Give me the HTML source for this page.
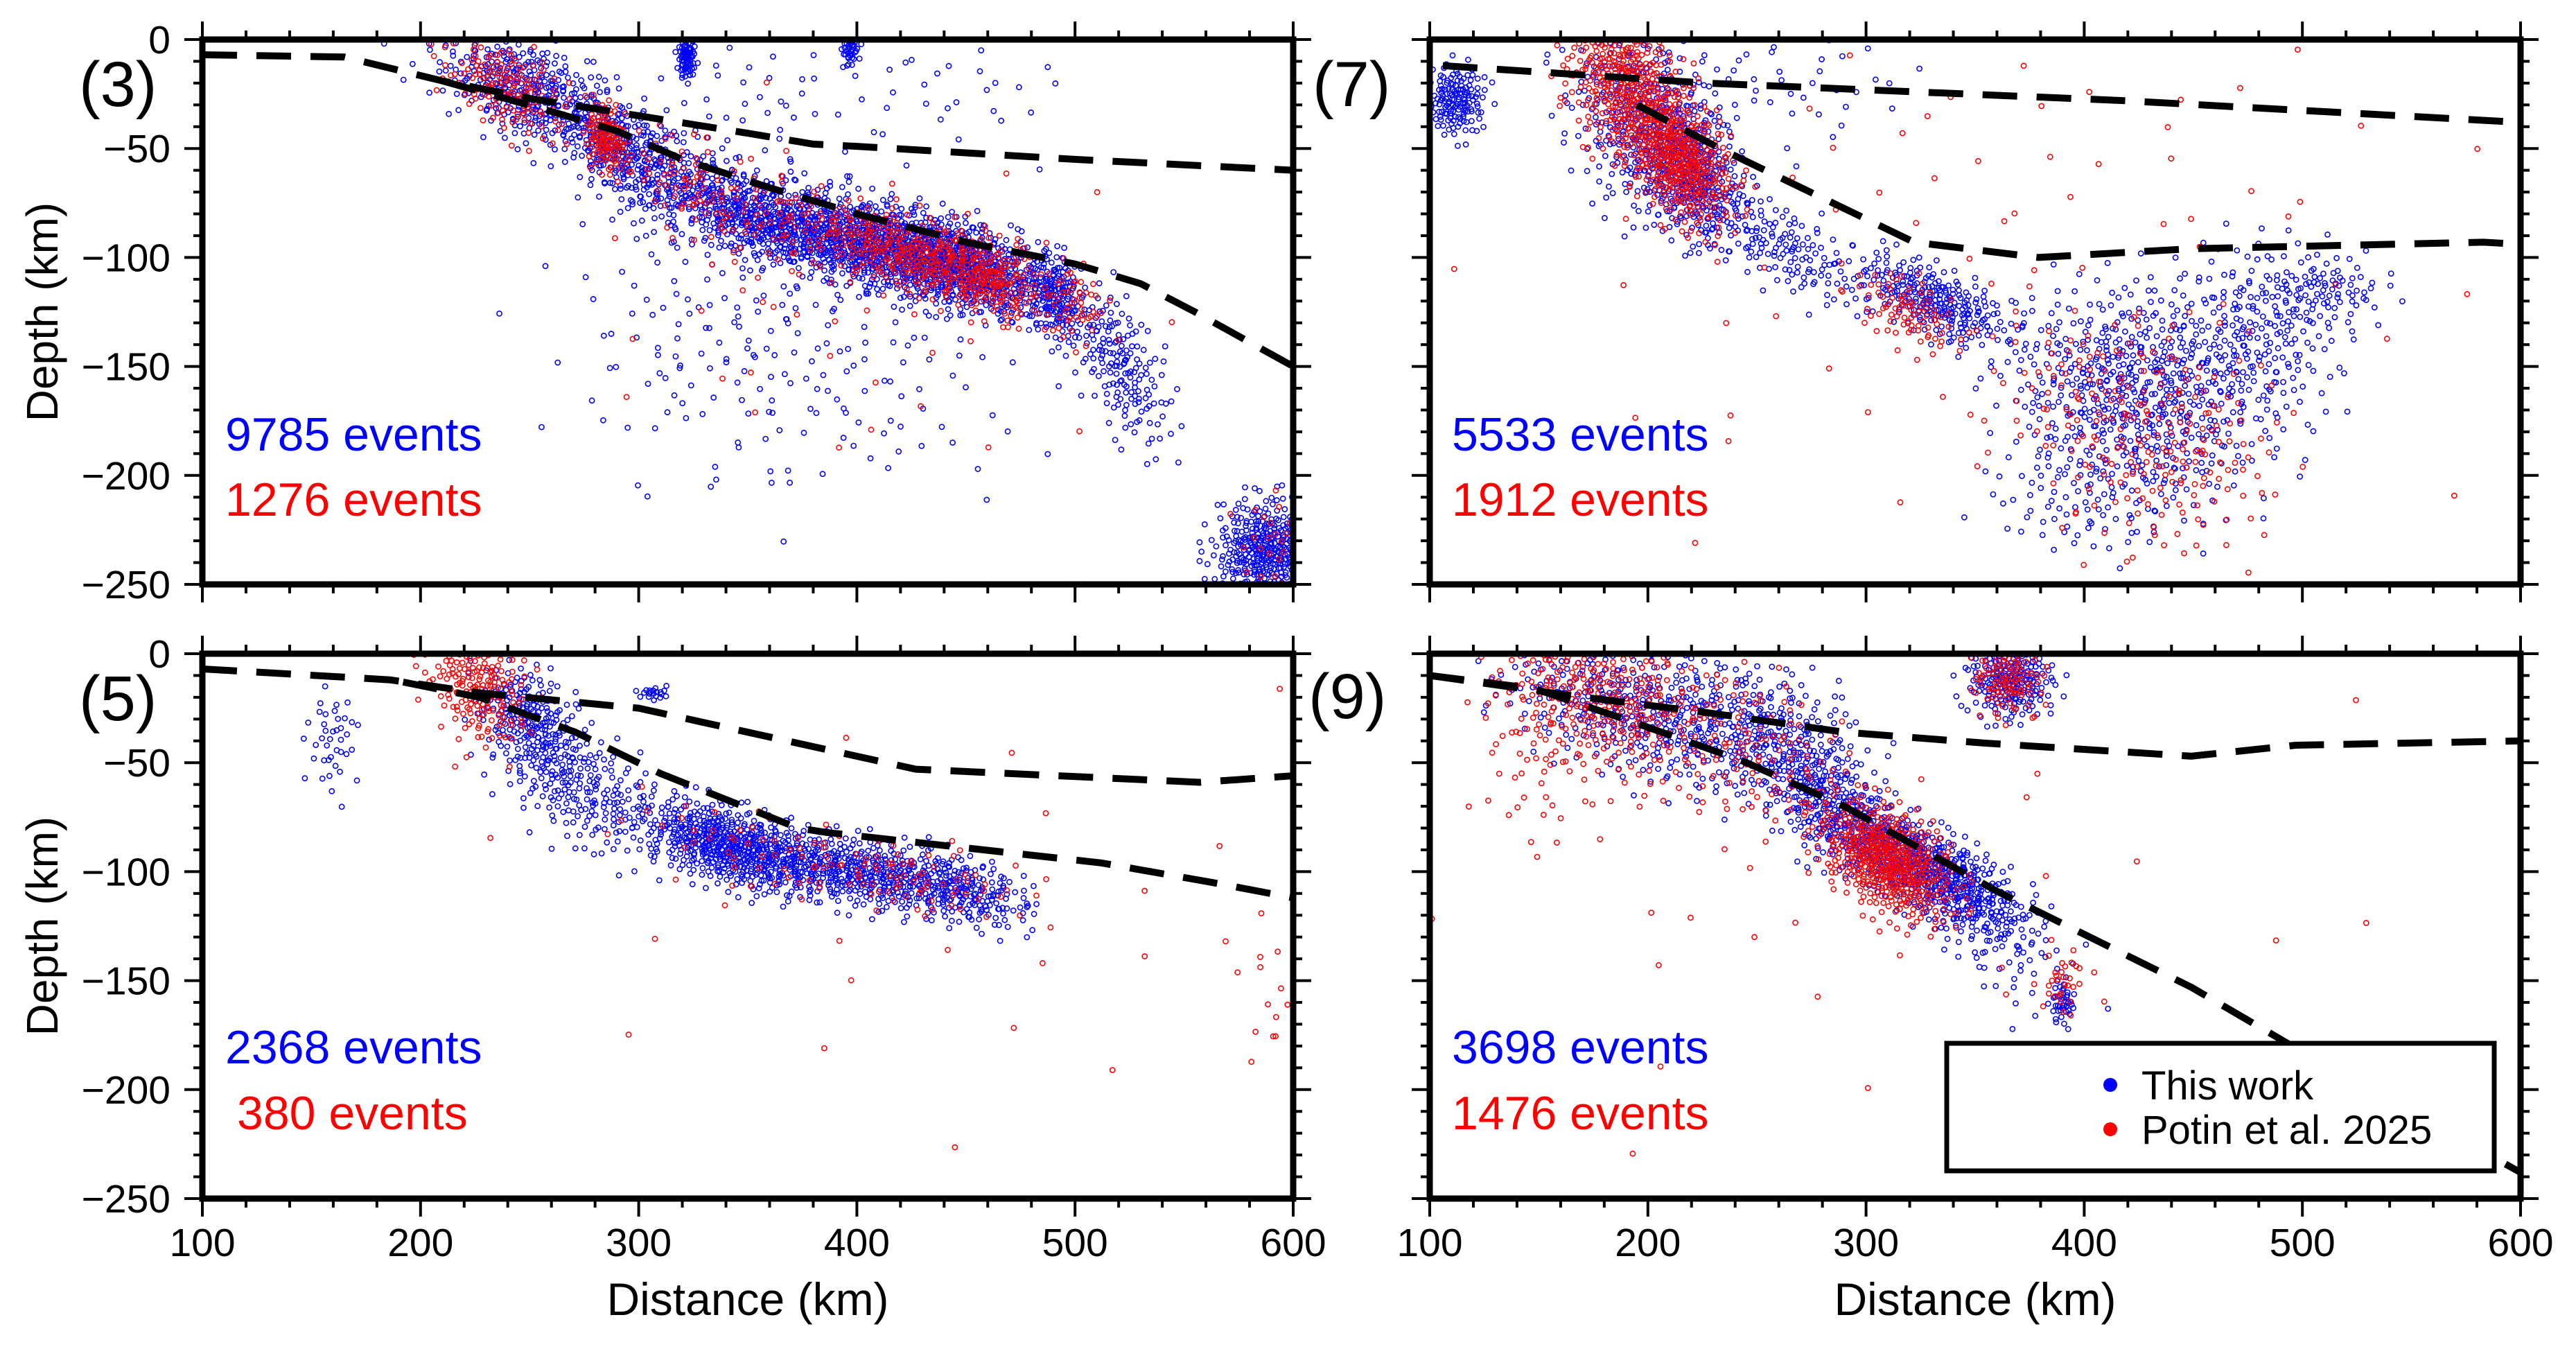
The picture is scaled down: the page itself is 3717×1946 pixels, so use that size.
<!DOCTYPE html>
<html><head><meta charset="utf-8"><style>
html,body{margin:0;padding:0;background:#fff;}
svg{display:block;font-family:"Liberation Sans",Arial,sans-serif;}
</style></head><body>
<svg id="chart" xmlns="http://www.w3.org/2000/svg" width="3717" height="1946" viewBox="0 0 3717 1946">
<rect x="0" y="0" width="3717" height="1946" fill="#fff"/>
</svg>
<script>
// ---- data (km distance, depth km) ----
const xTicks = [100, 200, 300, 400, 500, 600];
const yTicks = [0, -50, -100, -150, -200, -250];
const panelIds = ['3', '7', '5', '9'];
const blueCounts = ['9785 events', '5533 events', '2368 events', '3698 events'];
const redCounts = ['1276 events', '1912 events', '380 events', '1476 events'];

// slab dashed lines per panel: [upper, lower]
const slab3Upper = [[100,-7],[165,-8],[210,-19],[250,-27],[300,-35],[350,-43],[380,-48],[400,-49],[500,-55],[600,-60]];
const slab3Lower = [[210,-19],[260,-33],[290,-42],[320,-55],[360,-68],[400,-80],[450,-93],[500,-103],[530,-112],[555,-125],[600,-150]];
const slab7Upper = [[106,-12],[227,-20],[417,-28],[600,-38]];
const slab7Lower = [[195,-30],[233,-50],[322,-93],[379,-100],[449,-96],[583,-93],[600,-94]];
const slab5Upper = [[100,-7],[186,-12],[227,-18],[300,-25],[427,-53],[557,-59],[600,-56]];
const slab5Lower = [[192,-13],[227,-20],[271,-36],[310,-55],[373,-80],[386,-82],[512,-96],[563,-105],[600,-112]];
const slab9Upper = [[100,-10],[163,-19],[227,-27],[290,-36],[354,-41],[449,-47],[497,-42],[600,-40]];
const slab9Lower = [[100,-10],[148,-16],[195,-32],[243,-49],[290,-70],[360,-109],[449,-153],[497,-181],[600,-238]];

// event clusters: [x, depth, spreadX, spreadDepth, slope, count]
const blue3 = [[250,-25,15,12,0.3,230],[235,-15,20,10,0.2,100],[285,-45,12,10,0.5,150],[322,-8,2,5,0,80],[397,-5,2,4,0,40],
  [330,-70,30,12,0.5,300],[360,-85,25,8,0.3,300],[410,-95,30,10,0.3,800],[450,-103,20,10,0.3,500],[491,-118,6,10,0.5,150],
  [520,-148,12,15,1,180],[340,-130,40,35,0,120],[400,-155,50,30,0,90],[588,-235,12,12,0,400],[300,-60,15,15,0.5,120],
  [350,-30,30,20,0,50],[440,-20,30,20,0,35]];
const red3 = [[240,-22,15,10,0.4,150],[285,-45,5,8,0.5,120],[430,-100,30,9,0.3,400],[460,-108,10,10,0.4,100],[500,-120,8,10,0.5,40],
  [320,-65,15,10,0.5,60],[350,-80,20,15,0.4,60],[400,-120,60,40,0,40],[590,-230,8,15,0,25]];
const blue7 = [[112,-28,7,8,0,150],[200,-40,18,22,0.5,400],[220,-62,12,14,0.5,280],[262,-95,20,10,0.5,150],[332,-120,18,8,0.4,250],
  [420,-150,30,20,0,350],[430,-182,28,22,0,250],[480,-135,20,22,0,200],[510,-115,15,8,0,80],[395,-212,20,15,0,60],[250,-20,40,15,0,60]];
const red7 = [[190,-20,14,18,0.5,400],[215,-55,12,14,0.5,400],[320,-125,12,8,0.4,80],[440,-190,25,25,0,160],[400,-160,25,20,0,80],[350,-80,120,70,0,100]];
const blue5 = [[160,-40,6,12,0,40],[250,-30,12,12,0.5,200],[272,-60,20,14,0.5,230],[340,-88,20,9,0.3,500],[400,-100,30,8,0.2,500],
  [450,-108,15,8,0.3,150],[307,-18,4,1.5,0,20]];
const red5 = [[225,-12,12,10,0.2,150],[230,-30,10,10,0,40],[420,-102,30,8,0.2,80],[350,-90,30,10,0.3,40],[590,-160,10,20,0,15],[450,-120,100,50,0,25]];
const blue9 = [[190,-25,30,15,0.3,350],[250,-35,25,18,0.3,280],[280,-65,15,15,0.6,250],[320,-95,20,10,0.5,500],[350,-110,15,10,0.5,150],
  [366,-12,10,9,0,220],[390,-160,3,5,0,40],[360,-130,20,15,0.5,80]];
const red9 = [[180,-20,25,18,0.3,300],[150,-40,15,25,0,60],[250,-45,25,20,0.4,130],[310,-95,15,12,0.4,500],[365,-12,8,8,0,100],
  [390,-150,5,8,0,30],[300,-100,100,60,0,40]];

const panels = [
  {L:292, T:57, slabs:[slab3Upper, slab3Lower], blue:blue3, red:red3, left:true, bottom:false},
  {L:2063, T:57, slabs:[slab7Upper, slab7Lower], blue:blue7, red:red7, left:false, bottom:false},
  {L:292, T:943, slabs:[slab5Upper, slab5Lower], blue:blue5, red:red5, left:true, bottom:true},
  {L:2063, T:943, slabs:[slab9Upper, slab9Lower], blue:blue9, red:red9, left:false, bottom:true}
];
const W = 1574, H = 786;
const NS = 'http://www.w3.org/2000/svg';
const svg = document.getElementById('chart');
function mk(tag, attrs, parent){
  const e = document.createElementNS(NS, tag);
  for (const k in attrs) e.setAttribute(k, attrs[k]);
  (parent || svg).appendChild(e);
  return e;
}
function halton(i, b){ let f = 1, r = 0; while (i > 0){ f /= b; r += f * (i % b); i = Math.floor(i / b); } return r; }

const labelPos = [[114,153],[1894,153],[114,1039],[1888,1036]];
const textPos = [[325,650,744],[2095,650,744],[325,1534,1629],[2095,1534,1629]];
const labelX = [325, 2095, 342, 2095];

panels.forEach((p, pi) => {
  const sx = x => p.L + (x - 100) * W / 500;
  const sy = d => p.T + (-d) * H / 250;
  const g = mk('g', {});
  
  
  const clipId = 'clip' + pi;
  const cp = mk('clipPath', {id: clipId}, g);
  mk('rect', {x:p.L, y:p.T, width:W, height:H}, cp);
  const plot = mk('g', {'clip-path':'url(#' + clipId + ')'}, g);
  
  
  [['blue', p.blue, '#0000ff'], ['red', p.red, '#ff0000']].forEach(([nm, clusters, col]) => {
    const sg = mk('g', {fill:'none', stroke:col, 'stroke-width':'1.6'}, plot);
    
    
    let idx = 1;
    clusters.forEach(c => {
      const [cx, cd, spx, spd, slope, n] = c;
      for (let i = 0; i < n; i++, idx++){
        const u1 = Math.max(1e-4, halton(idx, 2)), u2 = halton(idx, 3);
        const r = Math.min(2.6, Math.sqrt(-2 * Math.log(u1)));
        const a = 2 * Math.PI * u2;
        const dx = r * Math.cos(a) * spx;
        const dd = r * Math.sin(a) * spd - slope * dx;
        const ci = mk('circle', {cx:sx(cx + dx).toFixed(1), cy:sy(cd + dd).toFixed(1), r:'3.6'}, sg);
        
        
      }
    });
  });
  p.slabs.forEach((line, li) => {
    const pl = mk('polyline', {points: line.map(q => sx(q[0]).toFixed(1) + ',' + sy(q[1]).toFixed(1)).join(' '),
      fill:'none', stroke:'#000', 'stroke-width':'10', 'stroke-dasharray':'50 28'}, plot);
    
    
  });
  const tg = mk('g', {stroke:'#000', 'stroke-width':'4'}, g);
  
  
  for (let x = 100; x <= 600; x += 20){
    const len = (x % 100 === 0) ? 26 : 13;
    mk('line', {x1:sx(x), y1:p.T, x2:sx(x), y2:p.T - len}, tg);
    mk('line', {x1:sx(x), y1:p.T + H, x2:sx(x), y2:p.T + H + len}, tg);
  }
  for (let d = 0; d >= -250; d -= 10){
    const len = (d % 50 === 0) ? 26 : 13;
    mk('line', {x1:p.L, y1:sy(d), x2:p.L - len, y2:sy(d)}, tg);
    mk('line', {x1:p.L + W, y1:sy(d), x2:p.L + W + len, y2:sy(d)}, tg);
  }
  const fr = mk('rect', {x:p.L, y:p.T, width:W, height:H, fill:'none', stroke:'#000', 'stroke-width':'9'}, g);
  
  
  if (p.left){
    yTicks.forEach(d => {
      const t = mk('text', {x:p.L - 46, y:sy(d) + 20, 'font-size':'57', 'text-anchor':'end'}, g);
      t.textContent = d === 0 ? '0' : '\u2212' + Math.abs(d);
      
      
    });
    const yt = mk('text', {x:0, y:0, 'font-size':'64', 'text-anchor':'middle', transform:'translate(83,' + (p.T + H/2) + ') rotate(-90)'}, g);
    yt.textContent = 'Depth (km)';
    
    
  }
  if (p.bottom){
    xTicks.forEach(x => {
      const t = mk('text', {x:sx(x), y:1812, 'font-size':'57', 'text-anchor':'middle'}, g);
      t.textContent = String(x);
      
      
    });
    const xt = mk('text', {x:p.L + W/2, y:1897, 'font-size':'66', 'text-anchor':'middle'}, g);
    xt.textContent = 'Distance (km)';
    
    
  }
  const pl = mk('text', {x:labelPos[pi][0], y:labelPos[pi][1], 'font-size':'92'}, g);
  pl.textContent = '(' + panelIds[pi] + ')';
  
  
  const bt = mk('text', {x:textPos[pi][0], y:textPos[pi][1], 'font-size':'68', fill:'#0000ff'}, g);
  bt.textContent = blueCounts[pi];
  
  
  const rt = mk('text', {x:labelX[pi], y:textPos[pi][2], 'font-size':'68', fill:'#ff0000'}, g);
  rt.textContent = redCounts[pi];
  
  
});

const lg = mk('g', {});


mk('rect', {x:2809, y:1505, width:790, height:184, fill:'#fff', stroke:'#000', 'stroke-width':'7'}, lg);
const e1 = mk('circle', {cx:3045, cy:1565, r:10, fill:'#0000ff'}, lg);


const t1 = mk('text', {x:3090, y:1586, 'font-size':'58'}, lg);
t1.textContent = 'This work';


const e2 = mk('circle', {cx:3045, cy:1629, r:10, fill:'#ff0000'}, lg);


const t2 = mk('text', {x:3090, y:1650, 'font-size':'58'}, lg);
t2.textContent = 'Potin et al. 2025';


</script>
</body></html>
